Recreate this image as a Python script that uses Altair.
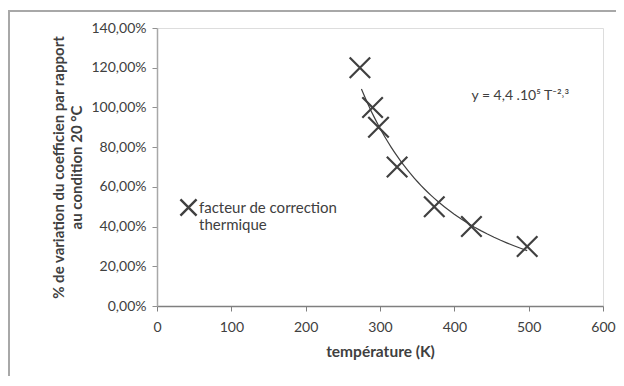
import altair as alt
import pandas as pd

# data
temperature = [273, 290, 298, 323, 373, 423, 498]
variation = [1.20, 1.00, 0.90, 0.70, 0.50, 0.40, 0.30]
series_name = ["facteur de correction\nthermique"] * len(temperature)

eq_x = [423]
eq_y = [1.06]
eq_text = ["y = 4,4 .10\u2075 T\u207b\u00b2\u02d2\u00b3"]

x_ticks = [0, 100, 200, 300, 400, 500, 600]
y_ticks = [0, 0.2, 0.4, 0.6, 0.8, 1.0, 1.2, 1.4]

df = pd.DataFrame({"T": temperature, "v": variation, "serie": series_name})
eq = pd.DataFrame({"x": eq_x, "y": eq_y, "t": eq_text})

XPATH = "M-1,-1L1,1M1,-1L-1,1"
FONT = "Lato"
TXT = "#404040"

xs = alt.Scale(domain=[0, 600], nice=False)
ys = alt.Scale(domain=[0, 1.4], nice=False)

x_axis = alt.Axis(values=x_ticks, title="température (K)", grid=False,
                  domainColor="#7f7f7f", domainWidth=1.5, tickColor="#7f7f7f",
                  tickSize=5, labelPadding=9, labelFontSize=14, labelColor=TXT,
                  labelFlush=False, labelOverlap=False,
                  titleFontSize=15.5, titleColor=TXT, titleFontWeight="bold",
                  titlePadding=10, labelFont=FONT, titleFont=FONT)
y_axis = alt.Axis(values=y_ticks, title=["% de variation du coefficien par rapport", "au condition 20 °C"],
                  grid=False, domainColor="#a8a8a8", domainWidth=1.5, tickColor="#909090",
                  tickSize=5, labelPadding=6, labelFontSize=14, labelColor=TXT,
                  labelFlush=False, labelOverlap=False,
                  labelExpr="replace(format(datum.value, '.2%'), '.', ',')",
                  titleFontSize=15, titleColor=TXT, titleFontWeight="bold",
                  titleLineHeight=18, titlePadding=7, labelFont=FONT, titleFont=FONT)

base = alt.Chart(df)

points = base.mark_point(filled=False, strokeWidth=2.2, size=420, opacity=1).encode(
    x=alt.X("T:Q", scale=xs, axis=x_axis),
    y=alt.Y("v:Q", scale=ys, axis=y_axis),
    shape=alt.Shape("serie:N", scale=alt.Scale(range=[XPATH]),
                    legend=alt.Legend(title=None, orient="none", legendX=22, legendY=170,
                                      labelFont=FONT, labelFontSize=15, labelColor=TXT,
                                      symbolSize=260, symbolStrokeWidth=2.4,
                                      symbolStrokeColor="#404040", labelOffset=1,
                                      labelExpr="split(datum.label, '\\n')")),
    color=alt.value("#404040"),
)

trend = base.transform_regression("T", "v", method="pow", extent=[275, 498]).mark_line(
    color="#404040", strokeWidth=1.2
).encode(x=alt.X("T:Q", scale=xs, axis=x_axis), y=alt.Y("v:Q", scale=ys, axis=y_axis))

equation = alt.Chart(eq).mark_text(align="left", baseline="middle", font=FONT,
                                   fontSize=14, color=TXT).encode(
    x=alt.X("x:Q", scale=xs, axis=x_axis), y=alt.Y("y:Q", scale=ys, axis=y_axis), text="t:N")

frame = alt.Chart(alt.Data(values=[{}])).mark_rect(
    fill=None, stroke="#a8a8a8", strokeWidth=2, clip=False
).encode(x=alt.value(-148), x2=alt.value(520), y=alt.value(-17), y2=alt.value(420))

chart = alt.layer(frame, trend, points, equation).properties(
    width=446, height=278,
    autosize=alt.AutoSizeParams(type="none"),
    padding={"left": 149, "top": 20, "right": 13, "bottom": 70},
).configure_view(stroke=None).configure(font=FONT).configure_axis(
    labelOverlap=False, labelFlush=False)

chart.save("out.html", embed_options={"renderer": "svg", "actions": False})
